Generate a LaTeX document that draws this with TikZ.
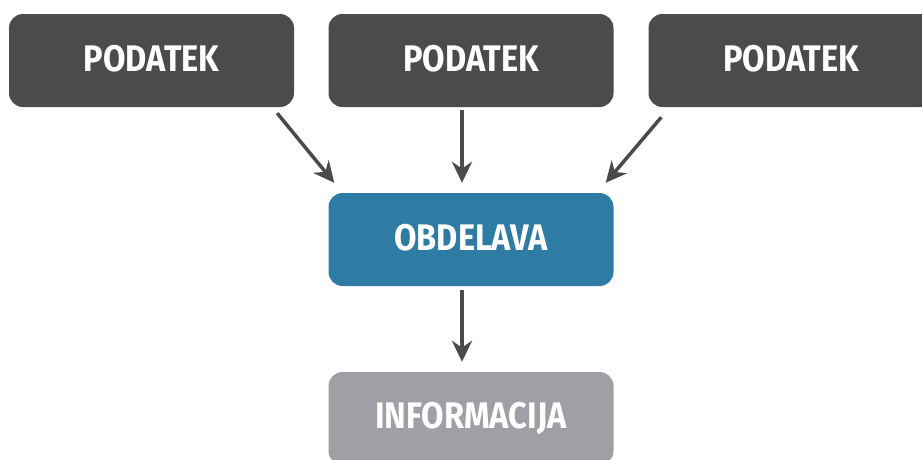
\documentclass[tikz,border=0pt]{standalone}
\usepackage{fontspec}
\setmainfont{Fira Sans}[BoldFont={Fira Sans Bold}]
\usetikzlibrary{arrows.meta,calc}
\definecolor{darkbox}{HTML}{4B4B4B}
\definecolor{bluebox}{HTML}{2E7CA4}
\definecolor{graybox}{HTML}{A09FA5}
\definecolor{arrowc}{HTML}{4A4A4A}
\tikzset{
  boxbase/.style={rounded corners=14pt, minimum width=285pt, minimum height=93pt,
    inner sep=0pt, text=white, font=\fontsize{37}{39}\selectfont\bfseries},
  databox/.style={boxbase, fill=darkbox},
  procbox/.style={boxbase, fill=bluebox},
  infobox/.style={boxbase, fill=graybox},
  conn/.style={draw=arrowc, line width=3.5pt, -{Stealth[length=21pt,width=20pt]}}
}
\newcommand{\lbl}[1]{\raisebox{5pt}{\scalebox{0.88}[1]{#1}}}
\begin{document}
\begin{tikzpicture}[x=1pt,y=1pt]
\useasboundingbox (0,0) rectangle (922,-459);
\clip (0,0) rectangle (922,-459);
\node[databox] (p1) at (151.5,-60.5) {\lbl{PODATEK}};
\node[databox] (p2) at (471,-60.5) {\lbl{PODATEK}};
\node[databox] (p3) at (791,-60.5) {\lbl{PODATEK}};
\node[procbox] (obd) at (471,-239.5) {\lbl{OBDELAVA}};
\node[infobox] (inf) at (471,-418.5) {\lbl{INFORMACIJA}};
\draw[conn] ($(p1.south east)+(-17,-6)$) -- ($(obd.north west)+(6,10)$);
\draw[conn] ($(p2.south)+(-9,-3)$) -- ($(obd.north)+(-9,10)$);
\draw[conn] ($(p3.south west)+(13,-10)$) -- ($(obd.north east)+(-8,10)$);
\draw[conn] ($(obd.south)+(-9,-4)$) -- ($(inf.north)+(-9,10)$);
\end{tikzpicture}
\end{document}
